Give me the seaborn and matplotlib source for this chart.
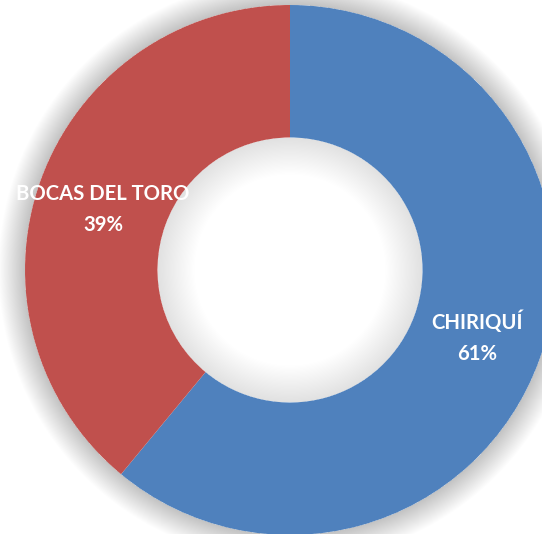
import matplotlib
matplotlib.use("Agg")
import matplotlib.pyplot as plt
from matplotlib.patches import Wedge
import seaborn as sns
import numpy as np

# Data
categories = ["CHIRIQUÍ", "BOCAS DEL TORO"]
shares = [61, 39]
colors = ["#4F81BD", "#C0504D"]

sns.set_theme(style="white")
plt.rcParams['font.family'] = ['Lato', 'DejaVu Sans']

fig = plt.figure(figsize=(5.42, 5.34), dpi=100)
ax = fig.add_axes([0, 0, 1, 1])
ax.set_axis_off()

wedges, _ = ax.pie(shares, colors=colors, startangle=90, counterclock=False,
                   radius=1.0, wedgeprops=dict(width=0.5, edgecolor="none"),
                   labels=None)
for w in wedges:
    w.set_zorder(3)

# soft shadow outside the ring
n = 30
step = 0.1 / n
for k in range(1, n + 1):
    ax.add_patch(Wedge((0, 0), 1 + k * step, 0, 360, width=k * step,
                       facecolor="black", edgecolor="none", alpha=0.006, zorder=1))
# inner shadow in the hole
n2 = 30
step2 = 0.14 / n2
for k in range(1, n2 + 1):
    ax.add_patch(Wedge((0, 0), 0.5, 0, 360, width=k * step2,
                       facecolor="black", edgecolor="none", alpha=0.0035, zorder=2))

total = sum(shares)
label_dy = [0, -5]  # points
for w, cat, v, dy in zip(wedges, categories, shares, label_dy):
    ang = np.deg2rad((w.theta1 + w.theta2) / 2)
    r = 0.75
    ax.annotate(f"{cat}\n{v / total * 100:.0f}%",
                xy=(r * np.cos(ang), r * np.sin(ang)), xytext=(0, dy),
                textcoords="offset points",
                ha="center", va="center", color="white", fontsize=14.6,
                fontweight="bold", linespacing=1.65, zorder=5)

ax.set_xlim(-290 / 265, (542 - 290) / 265)
ax.set_ylim(-(534 - 270) / 265, 270 / 265)
ax.set_aspect("auto")

fig.savefig("out.png", dpi=100, facecolor="white")
